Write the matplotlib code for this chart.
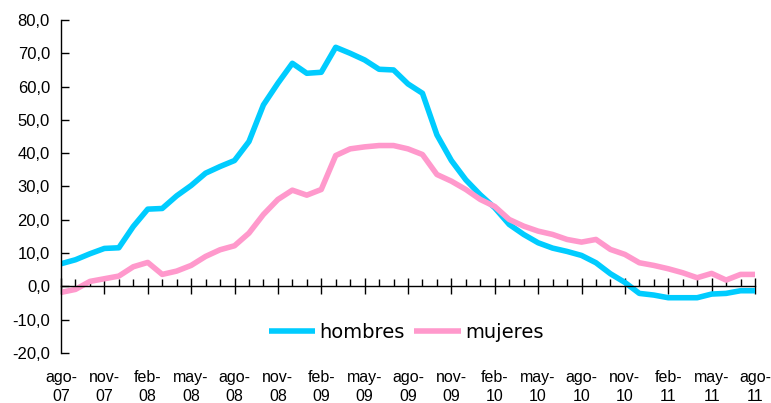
import matplotlib
matplotlib.use("Agg")
import matplotlib.pyplot as plt
from matplotlib.ticker import MultipleLocator, FixedLocator

months = ["ago", "sep", "oct", "nov", "dic", "ene", "feb", "mar", "abr", "may", "jun", "jul"]
start_year = 7
n_points = 49

hombres = [6.8, 8.0, 9.8, 11.4, 11.6, 18.0, 23.2, 23.4, 27.2, 30.3, 34.0, 36.0, 37.8,
           43.5, 54.5, 61.0, 67.0, 64.0, 64.3, 71.8, 70.0, 68.0, 65.2, 65.0, 60.8,
           58.0, 45.5, 37.8, 32.0, 27.5, 23.6, 18.6, 15.6, 13.1, 11.5, 10.5, 9.3,
           7.1, 3.8, 1.2, -2.1, -2.6, -3.4, -3.4, -3.4, -2.3, -2.1, -1.3, -1.3]
mujeres = [-1.8, -0.9, 1.5, 2.3, 3.1, 5.9, 7.2, 3.6, 4.6, 6.3, 9.0, 11.0, 12.2,
           16.0, 21.6, 26.1, 28.9, 27.4, 29.1, 39.3, 41.3, 41.9, 42.3, 42.3, 41.3,
           39.6, 33.6, 31.6, 29.1, 26.1, 24.0, 20.1, 18.1, 16.6, 15.6, 14.1, 13.3,
           14.1, 11.1, 9.6, 7.1, 6.3, 5.3, 4.1, 2.6, 3.9, 1.9, 3.6, 3.6]
y_ticks = [-20, -10, 0, 10, 20, 30, 40, 50, 60, 70, 80]

# build month labels
labels = []
for i in range(n_points):
    m = months[i % 12]
    yr = start_year + (i + 7) // 12
    labels.append(f"{m}-\n{yr:02d}")

fig = plt.figure(figsize=(7.71, 4.03), dpi=100)
ax = fig.add_axes([61/771, 1 - 353/403, 694/771, 333/403])

x = list(range(n_points))
ax.plot(x, hombres, color="#00CCFF", lw=4.0, solid_joinstyle="round", solid_capstyle="butt", label="hombres")
ax.plot(x, mujeres, color="#FF99CC", lw=4.0, solid_joinstyle="round", solid_capstyle="butt", label="mujeres")

ax.set_xlim(0, n_points - 1)
ax.set_ylim(-20, 80)

for s in ["top", "right"]:
    ax.spines[s].set_visible(False)
ax.spines["bottom"].set_position(("data", 0))
ax.spines["left"].set_linewidth(1.0)
ax.spines["bottom"].set_linewidth(1.0)

ax.yaxis.set_major_locator(FixedLocator(y_ticks))
ax.set_yticklabels([f"{v:.1f}".replace(".", ",") for v in y_ticks],
                   fontsize=12, family="Liberation Sans")
ax.tick_params(axis="y", direction="in", length=6, width=1, pad=8)

major_idx = list(range(0, n_points, 3))
ax.xaxis.set_major_locator(FixedLocator(major_idx))
ax.xaxis.set_minor_locator(MultipleLocator(1))
ax.tick_params(axis="x", which="major", direction="inout", length=11, width=1, labelbottom=False)
ax.tick_params(axis="x", which="minor", direction="in", length=5, width=1)

for i in major_idx:
    ax.text(i, -0.05, labels[i], transform=ax.get_xaxis_transform(), ha="center", va="top",
            fontsize=11.5, family="Liberation Sans", linespacing=1.35, clip_on=False)

leg = ax.legend(loc="center", bbox_to_anchor=(0.497, 0.063), ncol=2, frameon=False,
                prop={"family": "DejaVu Sans", "size": 14}, handlelength=2.4,
                handletextpad=0.2, columnspacing=0.5)

fig.savefig("out.png", dpi=100)
